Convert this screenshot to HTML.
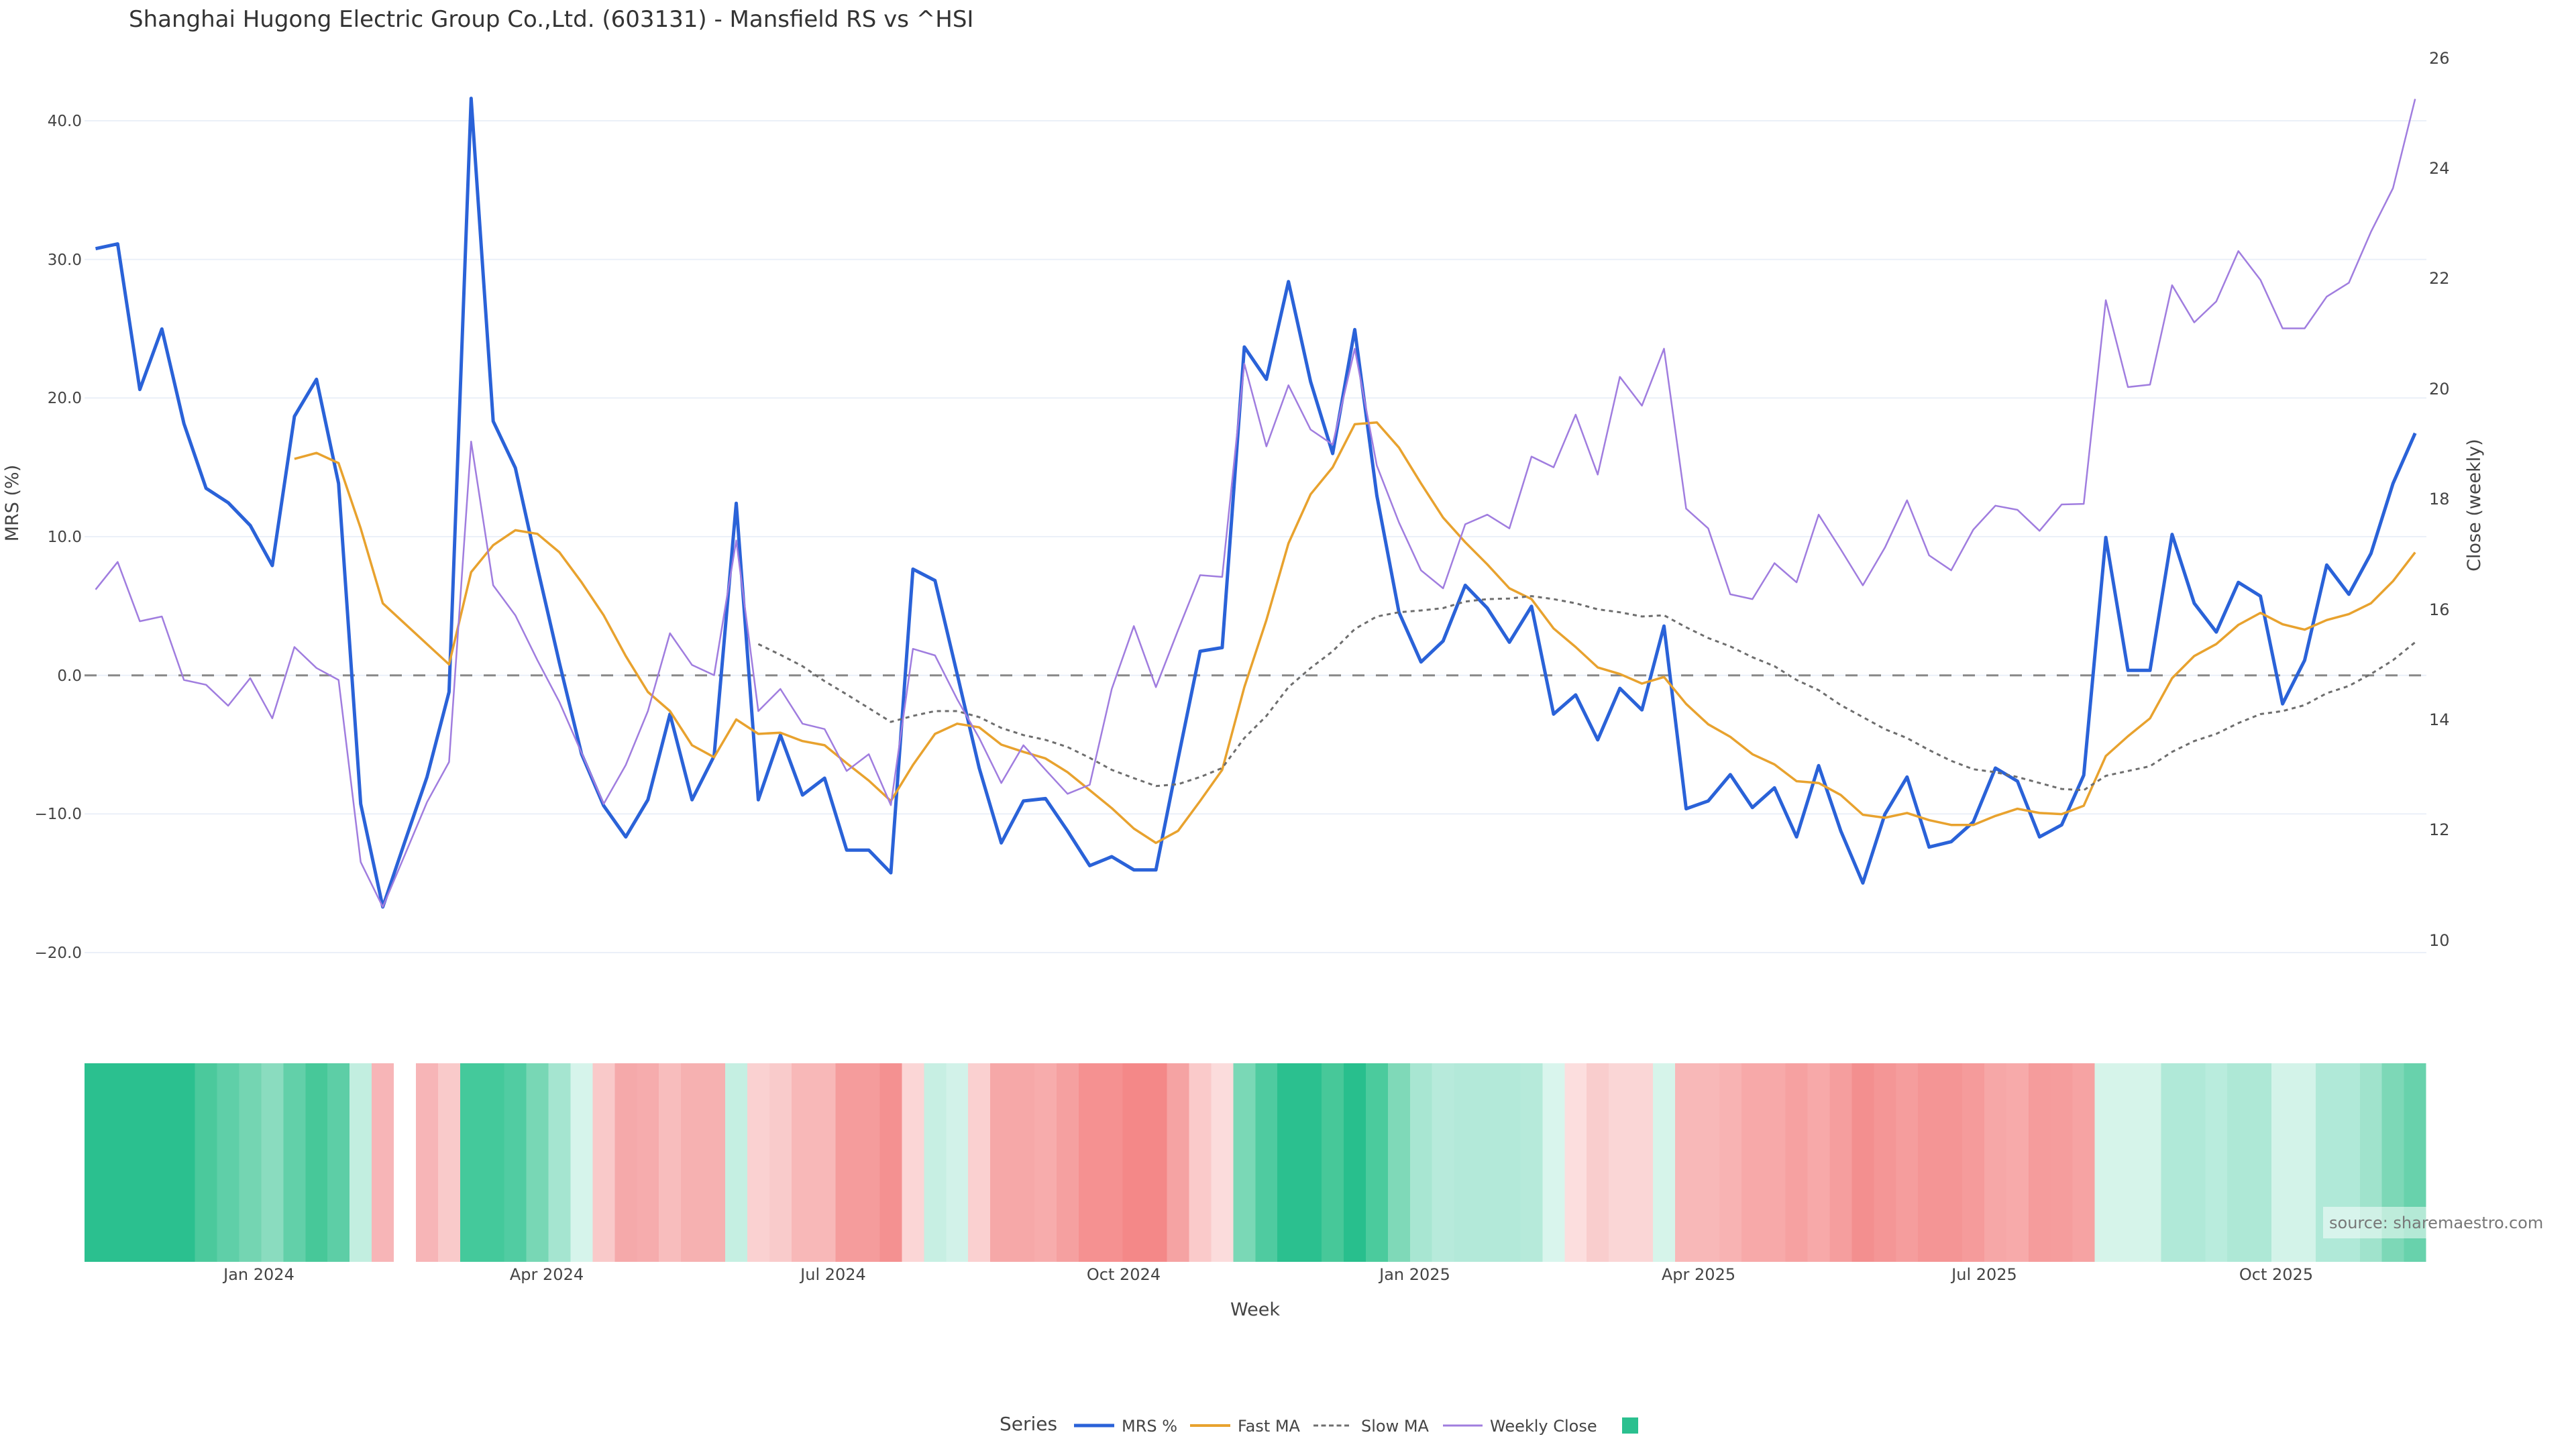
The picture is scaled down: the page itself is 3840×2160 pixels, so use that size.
<!DOCTYPE html>
<html>
<head>
<meta charset="utf-8">
<style>
html,body{margin:0;padding:0;background:#fff;}
svg{display:block;}
text{font-family:"DejaVu Sans","Liberation Sans",sans-serif;}
</style>
</head>
<body>
<svg xmlns="http://www.w3.org/2000/svg" width="3840" height="2160" viewBox="0 0 3840 2160">
<rect x="0" y="0" width="3840" height="2160" fill="#ffffff"/>

<!-- Title -->
<text x="192" y="40" font-size="34" fill="#333">Shanghai Hugong Electric Group Co.,Ltd. (603131) - Mansfield RS vs ^HSI</text>

<!-- Gridlines -->
<g stroke="#ebf0f8" stroke-width="2">
<line x1="126" y1="180" x2="3617" y2="180"/>
<line x1="126" y1="386.7" x2="3617" y2="386.7"/>
<line x1="126" y1="593.3" x2="3617" y2="593.3"/>
<line x1="126" y1="800" x2="3617" y2="800"/>
<line x1="126" y1="1006.7" x2="3617" y2="1006.7"/>
<line x1="126" y1="1213.3" x2="3617" y2="1213.3"/>
<line x1="126" y1="1420" x2="3617" y2="1420"/>
</g>

<!-- Left tick labels -->
<g font-size="23" fill="#444" text-anchor="end">
<text x="122" y="188">40.0</text>
<text x="122" y="395">30.0</text>
<text x="122" y="601">20.0</text>
<text x="122" y="808">10.0</text>
<text x="122" y="1015">0.0</text>
<text x="122" y="1221">−10.0</text>
<text x="122" y="1428">−20.0</text>
</g>

<!-- Right tick labels -->
<g font-size="24" fill="#444" text-anchor="start">
<text x="3621" y="95">26</text>
<text x="3621" y="259">24</text>
<text x="3621" y="423">22</text>
<text x="3621" y="588">20</text>
<text x="3621" y="752">18</text>
<text x="3621" y="917">16</text>
<text x="3621" y="1081">14</text>
<text x="3621" y="1245">12</text>
<text x="3621" y="1410">10</text>
</g>

<!-- Axis titles -->
<text transform="translate(27,750) rotate(-90)" text-anchor="middle" font-size="27" fill="#444">MRS (%)</text>
<text transform="translate(3697,753) rotate(-90)" text-anchor="middle" font-size="27" fill="#444">Close (weekly)</text>

<!-- Zero line -->
<line x1="126" y1="1006.7" x2="3617" y2="1006.7" stroke="#888" stroke-width="3" stroke-dasharray="18,17"/>

<!-- MRS % -->
<polyline fill="none" stroke="#2a62d8" stroke-width="5" stroke-linejoin="round" points="142.5,370.7 175.4,363.6 208.4,580.6 241.3,490.4 274.2,631.5 307.2,727.9 340.1,749.3 373.0,783.2 405.9,843.1 438.9,620.7 471.8,565.4 504.7,720.7 537.7,1198.4 570.6,1352.0 603.5,1254.7 636.5,1158.3 669.4,1031.5 702.3,146.6 735.2,627.9 768.2,697.5 801.1,845.8 834.0,988.6 867.0,1124.3 899.9,1201.1 932.8,1247.6 965.8,1192.2 998.7,1064.5 1031.6,1192.2 1064.5,1127.0 1097.5,750.2 1130.4,1192.2 1163.3,1095.8 1196.3,1185.1 1229.2,1160.0 1262.1,1267.2 1295.1,1267.2 1328.0,1301.1 1360.9,848.4 1393.8,865.4 1426.8,1004.7 1459.7,1144.9 1492.6,1256.5 1525.6,1194.0 1558.5,1190.4 1591.4,1238.6 1624.4,1290.4 1657.3,1277.0 1690.2,1296.7 1723.1,1296.7 1756.1,1131.5 1789.0,970.8 1821.9,965.4 1854.9,517.2 1887.8,565.4 1920.7,419.8 1953.7,569.0 1986.6,676.1 2019.5,491.3 2052.4,738.6 2085.4,912.7 2118.3,986.8 2151.2,955.6 2184.2,872.5 2217.1,906.5 2250.0,957.4 2283.0,903.8 2315.9,1064.5 2348.8,1035.9 2381.7,1102.9 2414.7,1026.1 2447.6,1058.3 2480.5,933.3 2513.5,1205.6 2546.4,1194.0 2579.3,1154.7 2612.3,1203.8 2645.2,1174.4 2678.1,1247.6 2711.0,1141.3 2744.0,1238.6 2776.9,1316.3 2809.8,1213.6 2842.8,1158.3 2875.7,1262.7 2908.6,1254.7 2941.6,1225.2 2974.5,1144.9 3007.4,1164.5 3040.3,1247.6 3073.3,1229.7 3106.2,1155.6 3139.1,801.1 3172.1,999.3 3205.0,999.3 3237.9,796.6 3270.9,899.3 3303.8,942.2 3336.7,868.1 3369.6,888.6 3402.6,1049.3 3435.5,984.2 3468.4,842.2 3501.4,885.9 3534.3,825.2 3567.2,720.7 3600.2,645.7"/>

<!-- Fast MA -->
<polyline fill="none" stroke="#e8a22e" stroke-width="3.5" stroke-linejoin="round" points="438.9,684.1 471.8,675.2 504.7,690.4 537.7,787.7 570.6,899.3 603.5,929.7 636.5,960.1 669.4,990.4 702.3,852.9 735.2,812.7 768.2,790.4 801.1,795.8 834.0,823.4 867.0,868.1 899.9,917.2 932.8,977.9 965.8,1031.5 998.7,1060.0 1031.6,1110.9 1064.5,1128.8 1097.5,1072.5 1130.4,1094.0 1163.3,1092.2 1196.3,1104.7 1229.2,1110.9 1262.1,1137.7 1295.1,1163.6 1328.0,1194.0 1360.9,1140.4 1393.8,1094.0 1426.8,1078.8 1459.7,1084.2 1492.6,1110.0 1525.6,1120.8 1558.5,1130.6 1591.4,1151.1 1624.4,1177.9 1657.3,1204.7 1690.2,1235.1 1723.1,1256.5 1756.1,1238.6 1789.0,1194.0 1821.9,1147.6 1854.9,1024.3 1887.8,924.3 1920.7,810.0 1953.7,736.8 1986.6,696.6 2019.5,632.4 2052.4,629.7 2085.4,667.2 2118.3,720.7 2151.2,771.6 2184.2,808.3 2217.1,841.3 2250.0,877.0 2283.0,893.1 2315.9,936.8 2348.8,964.5 2381.7,994.9 2414.7,1004.7 2447.6,1019.0 2480.5,1009.2 2513.5,1049.3 2546.4,1079.7 2579.3,1098.4 2612.3,1124.3 2645.2,1139.5 2678.1,1164.5 2711.0,1167.2 2744.0,1185.1 2776.9,1214.5 2809.8,1219.0 2842.8,1211.9 2875.7,1222.6 2908.6,1229.7 2941.6,1229.7 2974.5,1216.3 3007.4,1205.6 3040.3,1211.9 3073.3,1213.6 3106.2,1201.1 3139.1,1127.0 3172.1,1097.5 3205.0,1070.8 3237.9,1011.0 3270.9,977.9 3303.8,960.1 3336.7,931.5 3369.6,913.6 3402.6,930.6 3435.5,938.6 3468.4,924.3 3501.4,915.4 3534.3,899.3 3567.2,866.3 3600.2,823.4"/>

<!-- Slow MA -->
<polyline fill="none" stroke="#6e6e6e" stroke-width="3" stroke-dasharray="6,6" points="1130.4,960.1 1163.3,976.1 1196.3,993.1 1229.2,1015.4 1262.1,1035.1 1295.1,1055.6 1328.0,1076.1 1360.9,1067.2 1393.8,1060.0 1426.8,1060.0 1459.7,1069.0 1492.6,1085.1 1525.6,1095.8 1558.5,1102.9 1591.4,1113.6 1624.4,1129.7 1657.3,1147.6 1690.2,1160.0 1723.1,1171.7 1756.1,1169.0 1789.0,1158.3 1821.9,1144.9 1854.9,1100.2 1887.8,1067.2 1920.7,1024.3 1953.7,995.8 1986.6,970.8 2019.5,937.7 2052.4,919.0 2085.4,912.7 2118.3,910.0 2151.2,906.5 2184.2,896.7 2217.1,893.1 2250.0,892.2 2283.0,888.6 2315.9,893.1 2348.8,899.3 2381.7,908.3 2414.7,912.7 2447.6,919.0 2480.5,917.2 2513.5,935.1 2546.4,951.1 2579.3,963.6 2612.3,979.7 2645.2,993.1 2678.1,1013.6 2711.0,1028.8 2744.0,1051.1 2776.9,1069.0 2809.8,1086.9 2842.8,1100.2 2875.7,1118.1 2908.6,1134.2 2941.6,1146.7 2974.5,1151.1 3007.4,1158.3 3040.3,1167.2 3073.3,1176.1 3106.2,1177.9 3139.1,1156.5 3172.1,1149.3 3205.0,1142.2 3237.9,1120.8 3270.9,1104.7 3303.8,1094.0 3336.7,1077.9 3369.6,1064.5 3402.6,1060.0 3435.5,1051.1 3468.4,1033.3 3501.4,1022.6 3534.3,1004.7 3567.2,984.2 3600.2,957.4"/>

<!-- Weekly Close -->
<polyline fill="none" stroke="#a07ddf" stroke-width="2.5" stroke-linejoin="round" points="142.5,878.8 175.4,837.7 208.4,926.1 241.3,919.0 274.2,1013.6 307.2,1020.8 340.1,1052.0 373.0,1010.9 405.9,1070.8 438.9,964.5 471.8,995.8 504.7,1013.6 537.7,1285.1 570.6,1352.0 603.5,1274.3 636.5,1195.8 669.4,1135.9 702.3,658.2 735.2,872.5 768.2,917.2 801.1,984.2 834.0,1046.7 867.0,1122.5 899.9,1198.4 932.8,1140.4 965.8,1060.0 998.7,944.0 1031.6,991.3 1064.5,1006.5 1097.5,805.6 1130.4,1060.0 1163.3,1027.0 1196.3,1078.8 1229.2,1086.8 1262.1,1149.3 1295.1,1124.3 1328.0,1200.2 1360.9,967.2 1393.8,977.0 1426.8,1042.2 1459.7,1100.2 1492.6,1167.2 1525.6,1110.9 1558.5,1147.6 1591.4,1183.3 1624.4,1169.9 1657.3,1027.0 1690.2,933.3 1723.1,1024.3 1756.1,939.5 1789.0,857.4 1821.9,860.0 1854.9,542.2 1887.8,665.4 1920.7,574.3 1953.7,640.4 1986.6,662.7 2019.5,519.8 2052.4,694.0 2085.4,778.8 2118.3,850.2 2151.2,877.0 2184.2,781.5 2217.1,767.2 2250.0,787.7 2283.0,680.6 2315.9,696.6 2348.8,618.1 2381.7,707.4 2414.7,561.8 2447.6,604.7 2480.5,519.8 2513.5,758.2 2546.4,787.7 2579.3,885.9 2612.3,893.1 2645.2,839.5 2678.1,868.1 2711.0,767.2 2744.0,819.0 2776.9,872.5 2809.8,816.3 2842.8,745.8 2875.7,827.9 2908.6,850.2 2941.6,789.5 2974.5,753.8 3007.4,760.0 3040.3,791.3 3073.3,752.0 3106.2,751.1 3139.1,447.5 3172.1,577.0 3205.0,573.4 3237.9,425.2 3270.9,480.6 3303.8,449.3 3336.7,374.3 3369.6,417.2 3402.6,489.5 3435.5,489.5 3468.4,442.2 3501.4,421.6 3534.3,345.7 3567.2,280.5 3600.2,147.5"/>

<!-- Heatmap -->
<g shape-rendering="crispEdges">
<rect x="126.0" y="1585" width="165.2" height="296" fill="#2bc08f"/>
<rect x="290.7" y="1585" width="33.4" height="296" fill="#4bc99c"/>
<rect x="323.6" y="1585" width="33.4" height="296" fill="#5fcfa8"/>
<rect x="356.5" y="1585" width="33.4" height="296" fill="#74d5b2"/>
<rect x="389.4" y="1585" width="33.4" height="296" fill="#8adcbf"/>
<rect x="422.4" y="1585" width="33.4" height="296" fill="#62d0a9"/>
<rect x="455.3" y="1585" width="33.4" height="296" fill="#47c899"/>
<rect x="488.2" y="1585" width="33.4" height="296" fill="#5dcea6"/>
<rect x="521.2" y="1585" width="33.4" height="296" fill="#c2eee0"/>
<rect x="554.1" y="1585" width="32.9" height="296" fill="#f7b5b7"/>
<rect x="620.0" y="1585" width="33.4" height="296" fill="#f7b5b7"/>
<rect x="652.9" y="1585" width="33.4" height="296" fill="#f9caca"/>
<rect x="685.8" y="1585" width="66.3" height="296" fill="#44c99b"/>
<rect x="751.7" y="1585" width="33.4" height="296" fill="#51cca2"/>
<rect x="784.6" y="1585" width="33.4" height="296" fill="#78d7b5"/>
<rect x="817.5" y="1585" width="33.4" height="296" fill="#a5e5d0"/>
<rect x="850.5" y="1585" width="33.4" height="296" fill="#d6f4eb"/>
<rect x="883.4" y="1585" width="33.4" height="296" fill="#f9c9c9"/>
<rect x="916.3" y="1585" width="33.4" height="296" fill="#f5a9aa"/>
<rect x="949.3" y="1585" width="33.4" height="296" fill="#f6acad"/>
<rect x="982.2" y="1585" width="33.4" height="296" fill="#f8bdbd"/>
<rect x="1015.1" y="1585" width="66.3" height="296" fill="#f6b1b1"/>
<rect x="1081.0" y="1585" width="33.4" height="296" fill="#c5efe2"/>
<rect x="1113.9" y="1585" width="33.4" height="296" fill="#fad1d1"/>
<rect x="1146.8" y="1585" width="33.4" height="296" fill="#f9cbcb"/>
<rect x="1179.8" y="1585" width="66.3" height="296" fill="#f8b8b8"/>
<rect x="1245.6" y="1585" width="66.3" height="296" fill="#f59c9c"/>
<rect x="1311.5" y="1585" width="33.4" height="296" fill="#f49191"/>
<rect x="1344.4" y="1585" width="33.4" height="296" fill="#fbd6d6"/>
<rect x="1377.3" y="1585" width="33.4" height="296" fill="#c7efe3"/>
<rect x="1410.3" y="1585" width="33.4" height="296" fill="#d2f2e9"/>
<rect x="1443.2" y="1585" width="33.4" height="296" fill="#fad0d0"/>
<rect x="1476.1" y="1585" width="66.3" height="296" fill="#f6a8a8"/>
<rect x="1542.0" y="1585" width="33.4" height="296" fill="#f7acac"/>
<rect x="1574.9" y="1585" width="33.4" height="296" fill="#f5a0a0"/>
<rect x="1607.9" y="1585" width="66.3" height="296" fill="#f59191"/>
<rect x="1673.7" y="1585" width="66.3" height="296" fill="#f48888"/>
<rect x="1739.6" y="1585" width="33.4" height="296" fill="#f5a3a3"/>
<rect x="1772.5" y="1585" width="33.4" height="296" fill="#facaca"/>
<rect x="1805.4" y="1585" width="33.4" height="296" fill="#fbdcdc"/>
<rect x="1838.4" y="1585" width="33.4" height="296" fill="#7ad8b6"/>
<rect x="1871.3" y="1585" width="33.4" height="296" fill="#4fcba0"/>
<rect x="1904.2" y="1585" width="66.3" height="296" fill="#2bc08f"/>
<rect x="1970.1" y="1585" width="33.4" height="296" fill="#47c899"/>
<rect x="2003.0" y="1585" width="33.4" height="296" fill="#28bf8d"/>
<rect x="2035.9" y="1585" width="33.4" height="296" fill="#4bcb9d"/>
<rect x="2068.9" y="1585" width="33.4" height="296" fill="#7fd9b8"/>
<rect x="2101.8" y="1585" width="33.4" height="296" fill="#a8e6d2"/>
<rect x="2134.7" y="1585" width="33.4" height="296" fill="#b7eadb"/>
<rect x="2167.7" y="1585" width="99.2" height="296" fill="#b3e9d9"/>
<rect x="2266.5" y="1585" width="33.4" height="296" fill="#b6eada"/>
<rect x="2299.4" y="1585" width="33.4" height="296" fill="#d9f5ed"/>
<rect x="2332.3" y="1585" width="33.4" height="296" fill="#fcdede"/>
<rect x="2365.2" y="1585" width="33.4" height="296" fill="#f9cdcd"/>
<rect x="2398.2" y="1585" width="66.3" height="296" fill="#fad6d6"/>
<rect x="2464.0" y="1585" width="33.4" height="296" fill="#d6f4ea"/>
<rect x="2497.0" y="1585" width="66.3" height="296" fill="#f8b8b8"/>
<rect x="2562.8" y="1585" width="33.4" height="296" fill="#f8b3b3"/>
<rect x="2595.8" y="1585" width="66.3" height="296" fill="#f7a9a9"/>
<rect x="2661.6" y="1585" width="33.4" height="296" fill="#f6a1a1"/>
<rect x="2694.5" y="1585" width="33.4" height="296" fill="#f7a9a9"/>
<rect x="2727.5" y="1585" width="33.4" height="296" fill="#f59e9e"/>
<rect x="2760.4" y="1585" width="33.4" height="296" fill="#f38f8f"/>
<rect x="2793.3" y="1585" width="33.4" height="296" fill="#f49696"/>
<rect x="2826.3" y="1585" width="33.4" height="296" fill="#f59d9d"/>
<rect x="2859.2" y="1585" width="66.3" height="296" fill="#f49595"/>
<rect x="2925.1" y="1585" width="33.4" height="296" fill="#f59b9b"/>
<rect x="2958.0" y="1585" width="33.4" height="296" fill="#f6a7a7"/>
<rect x="2990.9" y="1585" width="33.4" height="296" fill="#f7aaaa"/>
<rect x="3023.8" y="1585" width="33.4" height="296" fill="#f59c9c"/>
<rect x="3056.8" y="1585" width="33.4" height="296" fill="#f59d9d"/>
<rect x="3089.7" y="1585" width="33.4" height="296" fill="#f6a3a3"/>
<rect x="3122.6" y="1585" width="99.2" height="296" fill="#d6f4ea"/>
<rect x="3221.4" y="1585" width="66.3" height="296" fill="#b0e9d8"/>
<rect x="3287.3" y="1585" width="33.4" height="296" fill="#b9ecdd"/>
<rect x="3320.2" y="1585" width="66.3" height="296" fill="#aee8d6"/>
<rect x="3386.1" y="1585" width="66.3" height="296" fill="#d3f3e9"/>
<rect x="3451.9" y="1585" width="66.3" height="296" fill="#b0e9d8"/>
<rect x="3517.8" y="1585" width="33.4" height="296" fill="#a0e3cc"/>
<rect x="3550.7" y="1585" width="33.4" height="296" fill="#7dd8b7"/>
<rect x="3583.7" y="1585" width="32.9" height="296" fill="#68d2ac"/>
</g>

<!-- Source annotation -->
<rect x="3463" y="1799" width="340" height="47" fill="#ffffff" fill-opacity="0.5"/>
<text x="3472" y="1831" font-size="24" fill="#777">source: sharemaestro.com</text>

<!-- X tick labels -->
<g font-size="24" fill="#444" text-anchor="middle">
<text x="386" y="1908">Jan 2024</text>
<text x="815" y="1908">Apr 2024</text>
<text x="1242" y="1908">Jul 2024</text>
<text x="1675" y="1908">Oct 2024</text>
<text x="2109" y="1908">Jan 2025</text>
<text x="2532" y="1908">Apr 2025</text>
<text x="2958" y="1908">Jul 2025</text>
<text x="3393" y="1908">Oct 2025</text>
</g>

<!-- X axis title -->
<text x="1871" y="1961" font-size="27" fill="#444" text-anchor="middle">Week</text>

<!-- Legend -->
<text x="1490" y="2132" font-size="28" fill="#444">Series</text>
<line x1="1601" y1="2125" x2="1661" y2="2125" stroke="#2a62d8" stroke-width="5"/>
<text x="1672" y="2134" font-size="24" fill="#444">MRS %</text>
<line x1="1774" y1="2125" x2="1834" y2="2125" stroke="#e8a22e" stroke-width="4"/>
<text x="1845" y="2134" font-size="24" fill="#444">Fast MA</text>
<line x1="1958" y1="2125" x2="2013" y2="2125" stroke="#6e6e6e" stroke-width="3" stroke-dasharray="7,4.5"/>
<text x="2029" y="2134" font-size="24" fill="#444">Slow MA</text>
<line x1="2151" y1="2125" x2="2210" y2="2125" stroke="#a07ddf" stroke-width="3"/>
<text x="2221" y="2134" font-size="24" fill="#444">Weekly Close</text>
<rect x="2418" y="2113" width="24" height="24" fill="#2bc08f"/>
</svg>
</body>
</html>
